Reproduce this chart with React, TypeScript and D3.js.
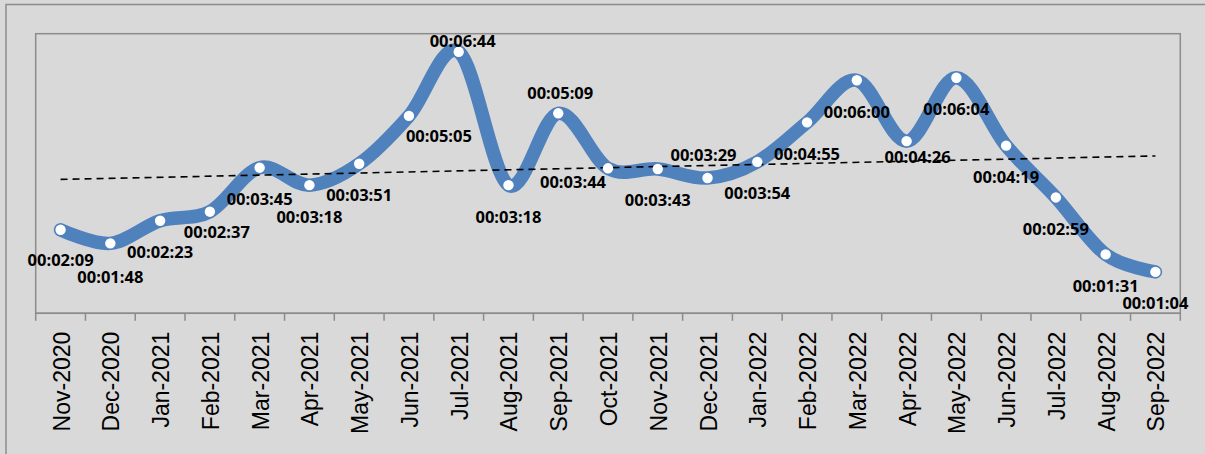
import React, { useEffect, useRef } from "react";
import * as d3 from "d3";

// months on the x axis
const months = [
  "Nov-2020", "Dec-2020", "Jan-2021", "Feb-2021", "Mar-2021", "Apr-2021",
  "May-2021", "Jun-2021", "Jul-2021", "Aug-2021", "Sep-2021", "Oct-2021",
  "Nov-2021", "Dec-2021", "Jan-2022", "Feb-2022", "Mar-2022", "Apr-2022",
  "May-2022", "Jun-2022", "Jul-2022", "Aug-2022", "Sep-2022",
];

// average duration, hh:mm:ss
const durations = [
  "00:02:09", "00:01:48", "00:02:23", "00:02:37", "00:03:45", "00:03:18",
  "00:03:51", "00:05:05", "00:06:44", "00:03:18", "00:05:09", "00:03:44",
  "00:03:43", "00:03:29", "00:03:54", "00:04:55", "00:06:00", "00:04:26",
  "00:06:04", "00:04:19", "00:02:59", "00:01:31", "00:01:04",
];

const yMax = 432; // seconds (0.005 day)

// labels are below the point unless nudged here
const labelNudge: Record<string, [number, number]> = {
  "Nov-2020": [0, 30],
  "Dec-2020": [0, 33.5],
  "Feb-2021": [7, 20],
  "Jun-2021": [30, 20],
  "Jul-2021": [4, -11],
  "Sep-2021": [2, -21],
  "Oct-2021": [-35, 13],
  "Dec-2021": [-4, -24],
  "Apr-2022": [11, 15],
};

const toSec = (s: string) => {
  const [h, m, sec] = s.split(":").map(Number);
  return h * 3600 + m * 60 + sec;
};

const W = 1205;
const H = 454;
const margin = { left: 35.7, right: W - 1180.3, top: 33.7, bottom: H - 313.3 };

const App = () => {
  const ref = useRef<SVGSVGElement>(null);

  useEffect(() => {
    const svg = d3.select(ref.current);
    svg.selectAll("*").remove();

    const data = months.map((m, i) => ({ month: m, label: durations[i], v: toSec(durations[i]) }));

    const x = d3.scaleBand().domain(months).range([margin.left, W - margin.right]);
    const y = d3.scaleLinear().domain([0, yMax]).range([H - margin.bottom, margin.top]);
    const cx = (m: string) => (x(m) as number) + x.bandwidth() / 2;

    svg.append("rect").attr("width", W).attr("height", H).attr("fill", "#d9d9d9");
    svg.append("rect")
      .attr("x", 6).attr("y", 4.5).attr("width", W + 10).attr("height", H + 10)
      .attr("fill", "none").attr("stroke", "#8c8c8c").attr("stroke-width", 1.5);

    svg.append("rect")
      .attr("x", margin.left).attr("y", margin.top)
      .attr("width", W - margin.right - margin.left)
      .attr("height", H - margin.bottom - margin.top)
      .attr("fill", "#d9d9d9").attr("stroke", "#8c8c8c").attr("stroke-width", 1.5);

    // x axis with ticks at category edges
    const axisY = H - margin.bottom;
    const ax = svg.append("g");
    ax.append("line")
      .attr("x1", margin.left).attr("x2", W - margin.right)
      .attr("y1", axisY).attr("y2", axisY)
      .attr("stroke", "#8c8c8c").attr("stroke-width", 1.5);
    const edges = months.map(m => x(m) as number).concat([W - margin.right]);
    ax.selectAll("line.tick").data(edges).enter().append("line")
      .attr("class", "tick")
      .attr("x1", d => d).attr("x2", d => d)
      .attr("y1", axisY).attr("y2", axisY + 7.5)
      .attr("stroke", "#8c8c8c").attr("stroke-width", 1.5);
    ax.selectAll("text").data(months).enter().append("text")
      .attr("transform", d => `translate(${cx(d) + 1},331.7) rotate(-90)`)
      .attr("text-anchor", "end")
      .attr("dominant-baseline", "central")
      .style("font-family", "'Liberation Sans', Arial, sans-serif")
      .style("font-size", "23px")
      .attr("fill", "#000")
      .text(d => d);

    // smoothed line
    const line = d3.line<any>()
      .x(d => cx(d.month))
      .y(d => y(d.v))
      .curve(d3.curveCardinal.tension(0));
    svg.append("path")
      .datum(data)
      .attr("d", line)
      .attr("fill", "none")
      .attr("stroke", "#4f81bd")
      .attr("stroke-width", 13.5)
      .attr("stroke-linecap", "round")
      .attr("stroke-linejoin", "round");

    // linear trend line
    const n = data.length;
    const mx = d3.mean(data, (_, i) => i) as number;
    const my = d3.mean(data, d => d.v) as number;
    const slope = d3.sum(data, (d, i) => (i - mx) * (d.v - my)) / d3.sum(data, (_, i) => (i - mx) ** 2);
    const trend = (i: number) => my + slope * (i - mx);
    svg.append("line")
      .attr("x1", cx(months[0])).attr("y1", y(trend(0)))
      .attr("x2", cx(months[n - 1])).attr("y2", y(trend(n - 1)))
      .attr("stroke", "#000").attr("stroke-width", 1.6)
      .attr("stroke-dasharray", "7,5");

    // markers
    svg.selectAll("circle").data(data).enter().append("circle")
      .attr("cx", d => cx(d.month)).attr("cy", d => y(d.v))
      .attr("r", 5.2).attr("fill", "#fff");

    // data labels
    svg.selectAll("text.lbl").data(data).enter().append("text")
      .attr("class", "lbl")
      .attr("x", d => cx(d.month) + (labelNudge[d.month] ? labelNudge[d.month][0] : 0))
      .attr("y", d => y(d.v) + (labelNudge[d.month] ? labelNudge[d.month][1] : 31))
      .attr("text-anchor", "middle")
      .attr("dominant-baseline", "central")
      .style("font-family", "'Open Sans', sans-serif")
      .style("font-weight", 700)
      .style("font-size", "16.5px")
      .attr("fill", "#000")
      .text(d => d.label);
  }, []);

  return (
    <div style={{ position: "absolute", left: 0, top: 0 }}>
      <svg ref={ref} width={W} height={H} style={{ display: "block" }} />
    </div>
  );
};

export default App;
